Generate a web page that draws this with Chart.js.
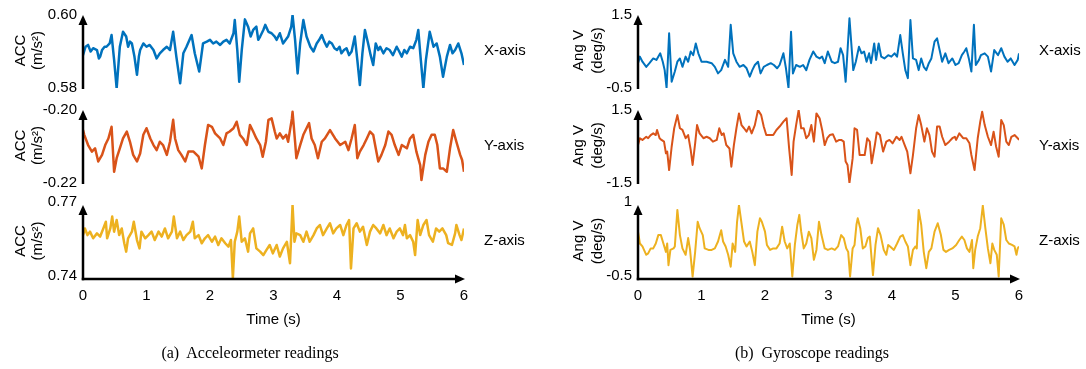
<!DOCTYPE html>
<html lang="en">
<head>
<meta charset="utf-8" />
<title>Accelerometer and gyroscope readings</title>
<style>
  * { margin: 0; padding: 0; }
  body { background: #fff; width: 1086px; height: 369px; overflow: hidden; }
  .wrap { position: relative; width: 1086px; height: 369px; }
  .wrap canvas { position: absolute; left: 0; top: 0; }
  .cap {
    position: absolute; top: 343px; width: 500px; text-align: center;
    font: 16px/20px "Liberation Serif", "Times New Roman", serif; color: #000;
  }
</style>
</head>
<body>
<div class="wrap">
  <canvas id="accX" width="1086" height="369"></canvas>
  <canvas id="accY" width="1086" height="369"></canvas>
  <canvas id="accZ" width="1086" height="369"></canvas>
  <canvas id="gyrX" width="1086" height="369"></canvas>
  <canvas id="gyrY" width="1086" height="369"></canvas>
  <canvas id="gyrZ" width="1086" height="369"></canvas>
  <div class="cap" style="left:0">(a)&nbsp; Acceleormeter readings</div>
  <div class="cap" style="left:562px">(b)&nbsp; Gyroscope readings</div>
</div>

<script src="https://cdn.jsdelivr.net/npm/chart.js@4.4.1/dist/chart.umd.min.js"></script>
<script>
// ---- data ----
const timeTicks = [0, 1, 2, 3, 4, 5, 6];

const accXRange = [0.58, 0.60];
const accXTicks = ['0.58', '0.60'];
const accXTime = [0,0.04,0.08,0.12,0.16,0.22,0.25,0.27,0.30,0.34,0.37,0.42,0.45,0.49,0.53,0.56,0.58,0.63,0.68,0.71,0.74,0.77,0.81,0.85,0.88,0.90,0.95,1.00,1.05,1.11,1.16,1.21,1.26,1.32,1.37,1.42,1.47,1.53,1.58,1.63,1.71,1.76,1.83,1.89,1.95,2.00,2.05,2.10,2.16,2.21,2.26,2.31,2.37,2.39,2.43,2.46,2.50,2.55,2.60,2.64,2.68,2.73,2.76,2.79,2.84,2.87,2.92,2.97,3.02,3.05,3.10,3.15,3.23,3.28,3.30,3.34,3.38,3.42,3.47,3.52,3.58,3.63,3.68,3.72,3.76,3.80,3.84,3.88,3.92,3.96,4.00,4.04,4.07,4.11,4.15,4.19,4.23,4.28,4.32,4.36,4.40,4.44,4.49,4.53,4.57,4.61,4.65,4.68,4.73,4.78,4.83,4.88,4.94,4.98,5.02,5.06,5.10,5.15,5.20,5.25,5.28,5.32,5.36,5.40,5.46,5.52,5.57,5.62,5.67,5.73,5.78,5.82,5.86,5.91,5.96,6.00];
const accXVals = [0.5890,0.5913,0.5918,0.5900,0.5909,0.5904,0.5881,0.5886,0.5904,0.5913,0.5913,0.5922,0.5945,0.5877,0.5799,0.5868,0.5913,0.5954,0.5941,0.5913,0.5927,0.5922,0.5886,0.5836,0.5886,0.5904,0.5922,0.5913,0.5918,0.5904,0.5881,0.5895,0.5904,0.5913,0.5904,0.5954,0.5886,0.5813,0.5895,0.5913,0.5945,0.5895,0.5845,0.5922,0.5927,0.5932,0.5922,0.5927,0.5918,0.5927,0.5932,0.5922,0.5950,0.5986,0.5904,0.5817,0.5904,0.5988,0.5968,0.5941,0.5959,0.5968,0.5932,0.5941,0.5959,0.5973,0.5954,0.5950,0.5941,0.5932,0.5950,0.5922,0.5941,0.5968,0.6000,0.5932,0.5840,0.5922,0.5986,0.5941,0.5913,0.5900,0.5922,0.5932,0.5945,0.5927,0.5913,0.5927,0.5922,0.5909,0.5904,0.5913,0.5895,0.5904,0.5909,0.5890,0.5900,0.5941,0.5877,0.5808,0.5895,0.5959,0.5922,0.5890,0.5863,0.5922,0.5904,0.5913,0.5895,0.5909,0.5904,0.5890,0.5913,0.5900,0.5886,0.5904,0.5895,0.5913,0.5909,0.5932,0.5959,0.5877,0.5799,0.5877,0.5954,0.5913,0.5922,0.5886,0.5831,0.5886,0.5918,0.5895,0.5904,0.5922,0.5895,0.5863];

const accYRange = [-0.22, -0.20];
const accYTicks = ['-0.22', '-0.20'];
const accYTime = [0.00,0.02,0.08,0.14,0.19,0.24,0.30,0.35,0.40,0.45,0.49,0.53,0.58,0.63,0.69,0.74,0.79,0.85,0.90,0.95,1.00,1.06,1.11,1.16,1.21,1.26,1.32,1.37,1.42,1.45,1.50,1.55,1.61,1.66,1.74,1.82,1.87,1.92,1.97,2.03,2.08,2.16,2.21,2.26,2.31,2.37,2.42,2.47,2.52,2.58,2.63,2.68,2.73,2.79,2.83,2.88,2.92,2.97,3.02,3.05,3.10,3.15,3.20,3.23,3.29,3.30,3.34,3.36,3.42,3.47,3.52,3.56,3.60,3.65,3.70,3.76,3.81,3.89,3.97,4.05,4.13,4.18,4.23,4.28,4.32,4.36,4.42,4.47,4.52,4.57,4.61,4.65,4.70,4.76,4.81,4.86,4.91,4.97,5.02,5.10,5.15,5.20,5.25,5.31,5.33,5.39,5.44,5.49,5.54,5.58,5.62,5.67,5.73,5.78,5.83,5.88,5.94,5.97,6.00];
const accYVals = [-0.2055,-0.2068,-0.2096,-0.2114,-0.2105,-0.2141,-0.2123,-0.2096,-0.2078,-0.2046,-0.2169,-0.2132,-0.2105,-0.2078,-0.2059,-0.2087,-0.2123,-0.2141,-0.2119,-0.2068,-0.2050,-0.2078,-0.2096,-0.2110,-0.2087,-0.2096,-0.2123,-0.2087,-0.2027,-0.2078,-0.2110,-0.2123,-0.2141,-0.2114,-0.2114,-0.2128,-0.2160,-0.2096,-0.2041,-0.2046,-0.2064,-0.2078,-0.2096,-0.2064,-0.2059,-0.2050,-0.2032,-0.2068,-0.2078,-0.2096,-0.2041,-0.2059,-0.2078,-0.2096,-0.2128,-0.2087,-0.2027,-0.2023,-0.2059,-0.2078,-0.2064,-0.2078,-0.2068,-0.2087,-0.2023,-0.2005,-0.2087,-0.2132,-0.2096,-0.2068,-0.2050,-0.2036,-0.2078,-0.2096,-0.2132,-0.2087,-0.2078,-0.2055,-0.2078,-0.2096,-0.2087,-0.2110,-0.2078,-0.2041,-0.2132,-0.2114,-0.2096,-0.2078,-0.2059,-0.2068,-0.2105,-0.2141,-0.2123,-0.2096,-0.2059,-0.2068,-0.2096,-0.2123,-0.2096,-0.2105,-0.2078,-0.2068,-0.2114,-0.2151,-0.2192,-0.2123,-0.2087,-0.2068,-0.2068,-0.2096,-0.2160,-0.2160,-0.2169,-0.2105,-0.2055,-0.2087,-0.2123,-0.2137,-0.2169];

const accZRange = [0.74, 0.77];
const accZTicks = ['0.74', '0.77'];
const accZTime = [0.00,0.03,0.07,0.11,0.16,0.22,0.27,0.32,0.36,0.38,0.43,0.46,0.49,0.53,0.57,0.61,0.65,0.68,0.71,0.77,0.80,0.85,0.89,0.92,0.98,1.03,1.08,1.13,1.19,1.24,1.29,1.34,1.40,1.43,1.48,1.53,1.58,1.63,1.69,1.73,1.76,1.82,1.87,1.92,1.97,2.03,2.08,2.13,2.18,2.24,2.29,2.33,2.36,2.39,2.43,2.46,2.50,2.55,2.60,2.63,2.68,2.73,2.79,2.84,2.89,2.94,2.99,3.05,3.10,3.15,3.21,3.26,3.30,3.33,3.36,3.42,3.47,3.52,3.57,3.63,3.68,3.73,3.78,3.84,3.89,3.94,3.99,4.05,4.10,4.15,4.19,4.22,4.26,4.31,4.36,4.41,4.47,4.52,4.57,4.62,4.68,4.73,4.78,4.83,4.89,4.94,4.99,5.04,5.07,5.10,5.15,5.20,5.23,5.27,5.31,5.36,5.41,5.45,5.51,5.56,5.61,5.66,5.72,5.75,5.81,5.86,5.88,5.93,5.96,6.00];
const accZVals = [0.7578,0.7605,0.7578,0.7592,0.7565,0.7585,0.7572,0.7605,0.7632,0.7565,0.7605,0.7653,0.7592,0.7639,0.7578,0.7605,0.7545,0.7511,0.7565,0.7592,0.7632,0.7558,0.7524,0.7592,0.7565,0.7578,0.7592,0.7558,0.7592,0.7572,0.7605,0.7565,0.7592,0.7653,0.7565,0.7592,0.7558,0.7578,0.7592,0.7632,0.7565,0.7578,0.7545,0.7565,0.7578,0.7551,0.7572,0.7538,0.7565,0.7545,0.7531,0.7558,0.7403,0.7551,0.7592,0.7653,0.7551,0.7565,0.7511,0.7585,0.7605,0.7524,0.7511,0.7497,0.7518,0.7538,0.7504,0.7538,0.7491,0.7524,0.7551,0.7464,0.7700,0.7551,0.7585,0.7578,0.7551,0.7592,0.7551,0.7578,0.7605,0.7619,0.7578,0.7605,0.7626,0.7585,0.7605,0.7619,0.7578,0.7619,0.7639,0.7443,0.7605,0.7626,0.7592,0.7612,0.7538,0.7592,0.7619,0.7605,0.7585,0.7619,0.7578,0.7605,0.7565,0.7592,0.7605,0.7578,0.7619,0.7565,0.7578,0.7551,0.7497,0.7639,0.7578,0.7619,0.7639,0.7578,0.7551,0.7605,0.7592,0.7605,0.7578,0.7545,0.7538,0.7585,0.7619,0.7578,0.7558,0.7605];

const gyrXRange = [-0.5, 1.5];
const gyrXTicks = ['-0.5', '1.5'];
const gyrXTime = [0.00,0.03,0.07,0.13,0.18,0.24,0.29,0.35,0.39,0.42,0.45,0.49,0.53,0.58,0.62,0.66,0.70,0.75,0.79,0.83,0.87,0.91,0.95,1.00,1.08,1.16,1.21,1.26,1.31,1.37,1.42,1.46,1.50,1.55,1.60,1.66,1.71,1.76,1.80,1.84,1.89,1.93,1.98,2.03,2.09,2.14,2.19,2.23,2.29,2.33,2.37,2.41,2.44,2.49,2.55,2.60,2.65,2.70,2.76,2.81,2.86,2.90,2.94,2.99,3.05,3.10,3.15,3.19,3.23,3.27,3.33,3.39,3.43,3.48,3.52,3.56,3.60,3.64,3.67,3.72,3.75,3.79,3.83,3.88,3.94,3.99,4.04,4.08,4.13,4.17,4.21,4.25,4.29,4.33,4.38,4.42,4.46,4.50,4.54,4.58,4.62,4.67,4.71,4.75,4.79,4.84,4.89,4.95,5.00,5.05,5.10,5.14,5.17,5.21,5.25,5.29,5.32,5.37,5.40,5.46,5.51,5.56,5.61,5.67,5.72,5.77,5.82,5.87,5.93,5.98,6.00];
const gyrXVals = [0.18,0.36,0.22,0.08,0.18,0.31,0.27,0.45,0.22,-0.01,-0.50,1.00,-0.33,-0.05,0.22,0.31,0.08,0.36,0.22,0.50,0.40,0.72,0.45,0.22,0.22,0.18,0.08,-0.10,-0.01,0.27,0.08,1.23,0.45,0.22,0.08,0.13,0.04,-0.19,-0.01,0.13,0.22,-0.10,0.08,0.13,0.18,0.13,0.04,0.13,0.45,0.04,-0.50,1.04,-0.10,0.13,0.08,0.13,-0.01,0.27,0.50,0.36,0.31,0.36,0.18,0.50,0.22,0.18,0.22,0.59,0.40,-0.33,1.41,-0.01,0.22,0.63,0.45,0.50,0.22,0.45,0.18,0.72,0.27,0.72,0.36,0.31,0.40,0.36,0.45,0.36,0.95,0.45,-0.01,-0.23,1.36,0.31,0.27,-0.01,0.31,0.08,-0.01,0.18,0.31,0.77,0.86,0.54,0.22,0.45,0.18,0.31,0.13,0.18,0.40,0.50,0.59,0.31,-0.05,1.23,0.13,0.27,0.40,0.45,0.36,-0.05,0.54,0.40,0.59,0.36,0.22,0.31,0.13,0.27,0.45];

const gyrYRange = [-1.5, 1.5];
const gyrYTicks = ['-1.5', '1.5'];
const gyrYTime = [0.00,0.03,0.07,0.13,0.16,0.20,0.24,0.28,0.30,0.34,0.37,0.41,0.44,0.46,0.49,0.53,0.57,0.62,0.66,0.70,0.75,0.79,0.83,0.86,0.90,0.93,0.97,1.03,1.08,1.13,1.18,1.24,1.28,1.32,1.35,1.39,1.44,1.47,1.51,1.55,1.59,1.63,1.67,1.71,1.75,1.79,1.84,1.89,1.94,1.98,2.02,2.08,2.13,2.18,2.23,2.29,2.34,2.38,2.42,2.45,2.49,2.53,2.57,2.61,2.65,2.69,2.73,2.77,2.81,2.86,2.90,2.94,2.98,3.02,3.07,3.12,3.17,3.20,3.24,3.27,3.30,3.33,3.38,3.41,3.45,3.49,3.53,3.57,3.61,3.65,3.68,3.73,3.76,3.81,3.86,3.91,3.96,4.01,4.07,4.12,4.15,4.20,4.24,4.29,4.33,4.38,4.42,4.46,4.51,4.55,4.59,4.63,4.67,4.71,4.75,4.79,4.84,4.90,4.95,4.99,5.01,5.06,5.12,5.17,5.22,5.25,5.30,5.35,5.39,5.42,5.46,5.51,5.56,5.60,5.64,5.68,5.72,5.76,5.80,5.84,5.88,5.93,5.98,6.00];
const gyrYVals = [0.06,0.34,0.27,0.40,0.34,0.47,0.54,0.47,0.68,0.34,0.27,0.20,-0.28,-0.21,-0.97,-0.01,0.75,1.29,0.75,0.68,0.34,0.47,-0.14,-0.76,0.13,0.88,0.54,0.34,0.40,0.34,0.20,0.27,0.75,0.47,0.54,0.06,-0.08,-0.83,0.06,0.75,1.36,0.88,0.75,0.61,0.82,0.54,0.88,1.50,1.29,0.82,0.47,0.47,0.47,0.68,0.82,1.02,1.16,-0.08,-1.17,0.20,0.88,1.50,0.75,0.75,0.34,0.47,0.88,0.20,1.36,1.16,0.68,0.06,0.34,0.47,0.50,0.20,0.27,0.27,0.20,-0.62,-0.76,-1.50,-0.49,0.75,0.68,-0.35,-0.35,-0.35,0.34,0.20,-0.69,0.06,0.58,0.47,-0.21,0.20,0.27,0.13,0.40,0.27,0.40,0.06,-0.21,-1.10,-0.35,0.75,1.29,0.88,0.20,0.75,0.47,-0.21,-0.42,0.82,0.82,0.40,0.06,0.20,0.34,0.40,0.27,0.54,0.34,0.34,0.13,-0.35,-0.97,0.34,1.02,1.43,0.88,0.40,0.06,0.61,-0.01,-0.42,1.09,0.88,0.20,0.06,0.40,0.47,0.34,0.27];

const gyrZRange = [-0.5, 1];
const gyrZTicks = ['-0.5', '1'];
const gyrZTime = [0.00,0.03,0.07,0.13,0.16,0.20,0.24,0.28,0.32,0.36,0.40,0.44,0.46,0.48,0.51,0.56,0.58,0.62,0.66,0.70,0.75,0.79,0.82,0.86,0.90,0.94,0.97,1.02,1.05,1.11,1.16,1.21,1.26,1.31,1.34,1.38,1.42,1.46,1.49,1.53,1.56,1.59,1.63,1.67,1.71,1.76,1.80,1.84,1.88,1.92,1.95,2.00,2.03,2.08,2.13,2.18,2.23,2.27,2.31,2.35,2.39,2.43,2.47,2.51,2.54,2.57,2.61,2.65,2.69,2.73,2.77,2.81,2.85,2.89,2.94,2.99,3.05,3.10,3.15,3.20,3.24,3.28,3.31,3.34,3.38,3.41,3.44,3.46,3.50,3.54,3.58,3.62,3.65,3.67,3.70,3.74,3.78,3.82,3.87,3.91,3.94,3.97,4.03,4.08,4.13,4.17,4.21,4.25,4.29,4.33,4.37,4.39,4.42,4.46,4.50,4.54,4.58,4.62,4.67,4.72,4.77,4.81,4.85,4.90,4.95,5.01,5.06,5.10,5.14,5.18,5.22,5.26,5.28,5.31,5.35,5.39,5.43,5.47,5.51,5.55,5.58,5.61,5.65,5.68,5.72,5.76,5.80,5.84,5.89,5.93,5.96,5.98,6.00];
const gyrZVals = [0.46,0.22,0.16,-0.01,0.02,0.12,0.12,0.22,0.39,0.39,0.22,0.05,0.22,-0.22,0.09,0.12,0.16,0.90,0.39,0.12,-0.01,0.33,0.09,-0.45,0.05,0.66,0.53,0.39,0.12,0.09,0.09,0.12,0.26,0.49,0.26,0.16,-0.01,-0.25,0.22,0.05,0.66,1.00,0.63,0.26,0.16,0.26,0.05,-0.22,0.46,0.73,0.66,0.46,0.19,0.09,0.12,0.12,0.22,0.56,0.26,0.12,0.22,-0.45,0.19,0.60,0.80,0.46,0.12,0.22,0.46,0.33,-0.11,0.09,0.66,0.39,0.12,0.09,0.12,0.09,0.16,0.39,0.33,0.12,0.05,-0.45,0.12,0.19,0.60,0.73,0.53,0.12,0.16,0.33,0.36,0.05,-0.42,0.19,0.53,0.39,0.09,-0.01,0.19,0.16,0.09,0.22,0.36,0.39,0.26,0.16,-0.22,0.09,0.16,0.12,0.90,0.60,0.05,-0.28,0.05,0.12,0.46,0.63,0.39,0.09,0.05,0.09,0.12,0.19,0.29,0.36,0.29,0.12,0.05,0.29,-0.28,0.09,0.36,0.53,0.99,0.53,0.12,-0.18,0.22,0.09,-0.01,-0.45,0.73,0.60,0.29,0.22,0.19,0.16,-0.01,0.12,0.16];

// ---- layout ----
const W = 1086, H = 369;
const Y_W = 60;   // fixed width of the y scale box
const X_H = 30;   // fixed height of the x scale box
const SANS = '"Liberation Sans", Arial, Helvetica, sans-serif';
const BLUE = '#0072BD', ORANGE = '#D95319', YELLOW = '#EDB120';

Chart.defaults.font.family = SANS;
Chart.defaults.color = '#000';

// axes with arrow heads, axis titles, series label
const decor = {
  id: 'decor',
  afterDraw(chart, args, o) {
    const { ctx, chartArea: { left, right, top, bottom } } = chart;
    ctx.save();
    ctx.strokeStyle = '#000';
    ctx.fillStyle = '#000';
    ctx.lineWidth = 2.5;

    // y axis
    ctx.beginPath();
    ctx.moveTo(left, bottom + (o.xAxis ? 1.25 : 1));
    ctx.lineTo(left, top + 6);
    ctx.stroke();
    ctx.beginPath();
    ctx.moveTo(left, top);
    ctx.lineTo(left - 4.5, top + 10);
    ctx.lineTo(left + 4.5, top + 10);
    ctx.closePath();
    ctx.fill();

    // x axis
    if (o.xAxis) {
      ctx.beginPath();
      ctx.moveTo(left - 1.25, bottom);
      ctx.lineTo(right - 6, bottom);
      ctx.stroke();
      ctx.beginPath();
      ctx.moveTo(right + 1, bottom);
      ctx.lineTo(right - 9, bottom - 4.5);
      ctx.lineTo(right - 9, bottom + 4.5);
      ctx.closePath();
      ctx.fill();

      ctx.font = '15px ' + SANS;
      ctx.textAlign = 'center';
      ctx.textBaseline = 'middle';
      ctx.fillText('Time (s)', (left + right) / 2, bottom + 41);
    }

    const mid = (top + bottom) / 2 - 1;
    ctx.font = '15px ' + SANS;
    ctx.textAlign = 'center';
    ctx.textBaseline = 'middle';
    o.title.forEach((line, i) => {
      ctx.save();
      ctx.translate(o.titleX[i], mid);
      ctx.rotate(-Math.PI / 2);
      ctx.fillText(line, 0, 0);
      ctx.restore();
    });

    ctx.textAlign = 'left';
    ctx.fillText(o.label, right + 20, mid);
    ctx.restore();
  }
};

function panel(id, p) {
  const pts = p.time.map((t, i) => ({ x: t, y: p.vals[i] }));
  return new Chart(document.getElementById(id), {
    type: 'line',
    data: {
      datasets: [{
        data: pts,
        borderColor: p.color,
        borderWidth: p.lw,
        pointRadius: 0,
        tension: 0,
        fill: false,
        borderJoinStyle: 'round'
      }]
    },
    options: {
      responsive: false,
      animation: false,
      devicePixelRatio: 1,
      layout: {
        padding: {
          left: p.left - Y_W,
          right: W - p.right,
          top: p.top,
          bottom: H - p.bottom - (p.xAxis ? X_H : 0)
        }
      },
      plugins: {
        legend: { display: false },
        tooltip: { enabled: false },
        decor: { xAxis: p.xAxis, title: p.title, titleX: p.titleX, label: p.label }
      },
      scales: {
        x: {
          type: 'linear',
          min: 0,
          max: 6,
          display: p.xAxis,
          grid: { display: false, drawTicks: false },
          border: { display: false },
          ticks: { padding: 8, font: { size: 15 }, color: '#000', maxRotation: 0 },
          afterBuildTicks: (s) => { s.ticks = timeTicks.map((v) => ({ value: v })); },
          afterFit: (s) => { s.height = p.xAxis ? X_H : 0; }
        },
        y: {
          min: p.range[0],
          max: p.range[1],
          grid: { display: false, drawTicks: false },
          border: { display: false },
          ticks: {
            padding: 6,
            font: { size: 15 },
            color: '#000',
            labelOffset: p.xAxis ? -3 : 0,
            callback: (v, i) => p.ticks[i]
          },
          afterBuildTicks: (s) => { s.ticks = p.range.map((v) => ({ value: v })); },
          afterFit: (s) => { s.width = Y_W; }
        }
      }
    },
    plugins: [decor]
  });
}

const accTitle = ['ACC', '(m/s\u00B2)'];
const gyrTitle = ['Ang V', '(deg/s)'];
const rows = [[15, 88], [110, 183], [205, 279]];

panel('accX', { time: accXTime, vals: accXVals, range: accXRange, ticks: accXTicks, color: BLUE, lw: 2.5,
  left: 83, right: 464, top: rows[0][0], bottom: rows[0][1], xAxis: false, title: accTitle, titleX: [21, 38], label: 'X-axis' });
panel('accY', { time: accYTime, vals: accYVals, range: accYRange, ticks: accYTicks, color: ORANGE, lw: 2.5,
  left: 83, right: 464, top: rows[1][0], bottom: rows[1][1], xAxis: false, title: accTitle, titleX: [21, 38], label: 'Y-axis' });
panel('accZ', { time: accZTime, vals: accZVals, range: accZRange, ticks: accZTicks, color: YELLOW, lw: 2.5,
  left: 83, right: 464, top: rows[2][0], bottom: rows[2][1], xAxis: true, title: accTitle, titleX: [21, 38], label: 'Z-axis' });
panel('gyrX', { time: gyrXTime, vals: gyrXVals, range: gyrXRange, ticks: gyrXTicks, color: BLUE, lw: 2,
  left: 638, right: 1019, top: rows[0][0], bottom: rows[0][1], xAxis: false, title: gyrTitle, titleX: [579, 598], label: 'X-axis' });
panel('gyrY', { time: gyrYTime, vals: gyrYVals, range: gyrYRange, ticks: gyrYTicks, color: ORANGE, lw: 2,
  left: 638, right: 1019, top: rows[1][0], bottom: rows[1][1], xAxis: false, title: gyrTitle, titleX: [579, 598], label: 'Y-axis' });
panel('gyrZ', { time: gyrZTime, vals: gyrZVals, range: gyrZRange, ticks: gyrZTicks, color: YELLOW, lw: 2,
  left: 638, right: 1019, top: rows[2][0], bottom: rows[2][1], xAxis: true, title: gyrTitle, titleX: [579, 598], label: 'Z-axis' });
</script>
</body>
</html>
